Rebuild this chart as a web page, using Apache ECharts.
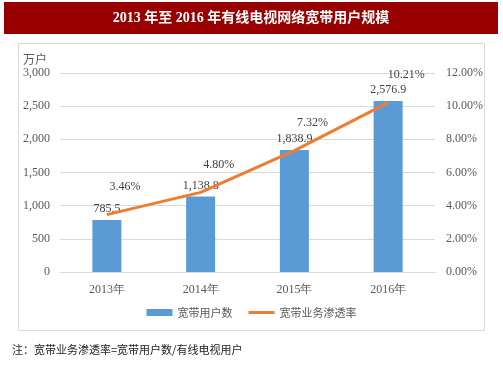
<!DOCTYPE html>
<html><head><meta charset="utf-8">
<script src="https://cdn.jsdelivr.net/npm/echarts@6/dist/echarts.min.js"></script>
<style>html,body{margin:0;padding:0;background:#fff}#c{width:503px;height:378px}</style>
</head><body><div id="c"></div>
<script>
const categories = ['2013年','2014年','2015年','2016年'];
const users = [785.5, 1138.8, 1838.9, 2576.9];
const rate = [3.46, 4.80, 7.32, 10.21];
const leftTicks = [0, 500, 1000, 1500, 2000, 2500, 3000];
const rightTicks = [0, 2, 4, 6, 8, 10, 12];
const serif = "'Liberation Serif','Times New Roman',serif";
const cjk = "'Noto Sans CJK SC','Noto Sans',sans-serif";
const chart = echarts.init(document.getElementById('c'));
chart.setOption({
  animation: false,
  graphic: [
    {type:'rect', shape:{x:4,y:2,width:494,height:32}, style:{fill:'#990000'}},
    {type:'text', style:{text:'2013 年至 2016 年有线电视网络宽带用户规模', x:251, y:18, align:'center', verticalAlign:'middle', fill:'#fff', font:"bold 14px 'Liberation Serif','Noto Sans CJK SC',serif"}},
    {type:'rect', shape:{x:18.5,y:43.5,width:466,height:287}, style:{fill:'none', stroke:'#d9d9d9', lineWidth:1}},
    {type:'text', style:{text:'万户', x:23, y:59, verticalAlign:'middle', fill:'#595959', font:"12px 'Noto Sans CJK SC',sans-serif"}},
    {type:'text', style:{text:'注：宽带业务渗透率=宽带用户数/有线电视用户', x:12, y:350, verticalAlign:'middle', fill:'#222', font:"11px 'Noto Sans CJK SC',sans-serif"}}
  ],
  legend: {
    bottom: 55, left: 'center', itemWidth: 26, itemHeight: 7, itemGap: 16,
    textStyle: {color:'#595959', fontSize:11, fontFamily:cjk},
    data: [{name:'宽带用户数', icon:'rect'}, {name:'宽带业务渗透率', icon:'path://M0,0L26,0L26,3L0,3Z', itemStyle:{color:'#ED7D31'}}]
  },
  grid: {left:60, right:68, top:73, bottom:106},
  xAxis: {
    type:'category', data: categories,
    axisLine:{lineStyle:{color:'#d9d9d9'}}, axisTick:{show:false},
    axisLabel:{color:'#595959', fontSize:12, fontFamily:serif, margin:12}
  },
  yAxis: [
    {type:'value', min:leftTicks[0], max:leftTicks[leftTicks.length-1], interval:leftTicks[1]-leftTicks[0],
     axisLine:{show:false}, axisTick:{show:false},
     splitLine:{lineStyle:{color:'#d9d9d9'}},
     axisLabel:{color:'#595959', fontSize:12, fontFamily:serif, margin:10,
       formatter: v => v.toLocaleString('en-US')}},
    {type:'value', min:rightTicks[0], max:rightTicks[rightTicks.length-1], interval:rightTicks[1]-rightTicks[0],
     axisLine:{show:false}, axisTick:{show:false}, splitLine:{show:false},
     axisLabel:{color:'#595959', fontSize:12, fontFamily:serif, margin:11,
       formatter: v => v.toFixed(2)+'%'}}
  ],
  series: [
    {name:'宽带用户数', type:'bar', data: users, barWidth:29, itemStyle:{color:'#5B9BD5'},
     label:{show:true, position:'top', distance:5, color:'#404040', fontSize:12, fontFamily:serif,
       formatter: p => p.value.toLocaleString('en-US',{minimumFractionDigits:1, maximumFractionDigits:1})}},
    {name:'宽带业务渗透率', type:'line', yAxisIndex:1, data: rate, symbol:'circle', symbolSize:0.01,
     lineStyle:{color:'#ED7D31', width:3}, itemStyle:{color:'#ED7D31'},
     label:{show:true, position:'top', distance:2, offset:[18,-20], color:'#404040', fontSize:12, fontFamily:serif,
       formatter: p => p.value.toFixed(2)+'%'}}
  ]
});
</script></body></html>
